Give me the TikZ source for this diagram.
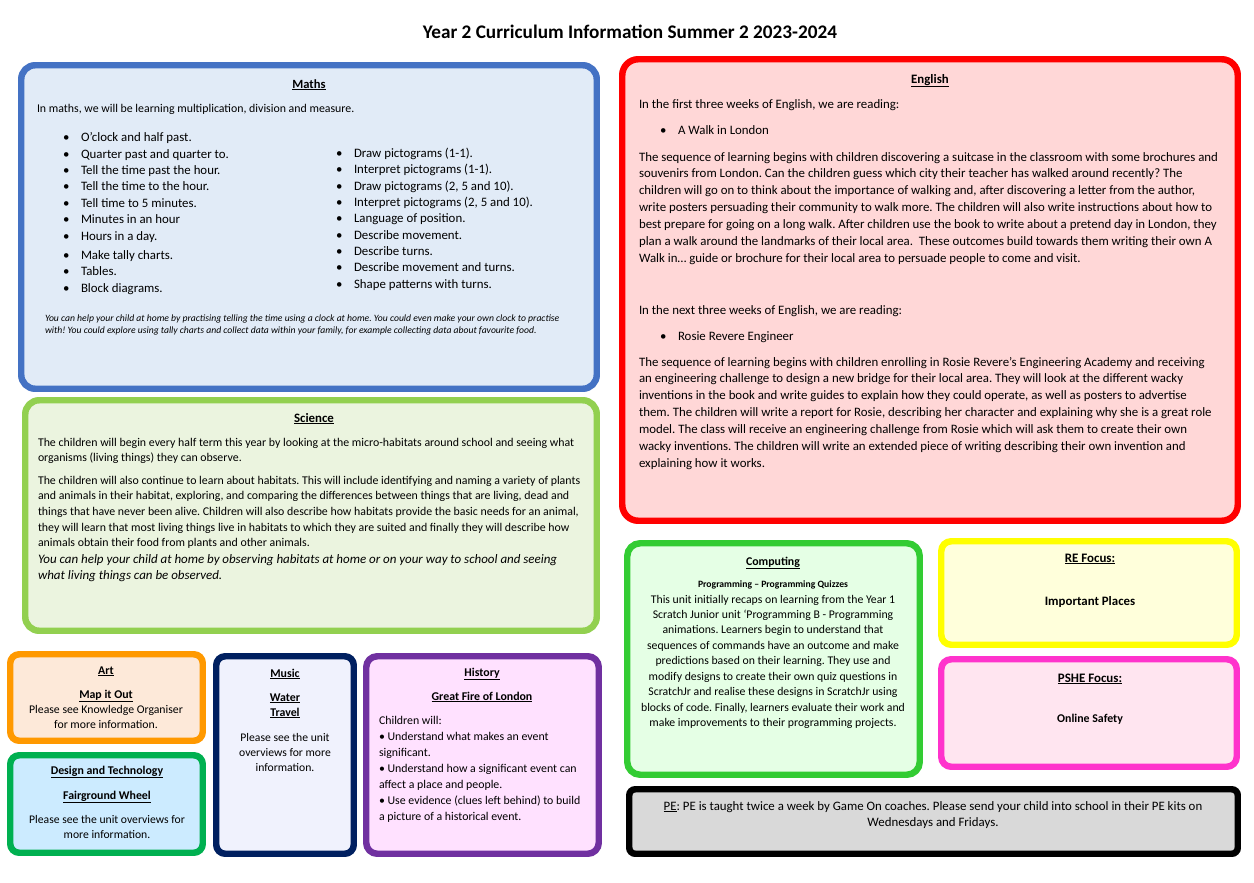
\documentclass[tikz,border=0pt]{standalone}
\usepackage{fontspec}
\setmainfont{Carlito}
\frenchspacing
\definecolor{mathsB}{HTML}{4472C4}\definecolor{mathsF}{HTML}{E1EBF7}
\definecolor{sciB}{HTML}{92D050}\definecolor{sciF}{HTML}{EBF4DF}
\definecolor{engB}{HTML}{FF0000}\definecolor{engF}{HTML}{FFD7D7}
\definecolor{compB}{HTML}{33CC33}\definecolor{compF}{HTML}{E5FFE5}
\definecolor{reB}{HTML}{FFFF00}\definecolor{reF}{HTML}{FFFFDB}
\definecolor{psheB}{HTML}{FF33CC}\definecolor{psheF}{HTML}{FFE5F0}
\definecolor{peB}{HTML}{000000}\definecolor{peF}{HTML}{D9D9D9}
\definecolor{artB}{HTML}{FF9900}\definecolor{artF}{HTML}{FDE9D9}
\definecolor{dtB}{HTML}{00B050}\definecolor{dtF}{HTML}{CCEBFF}
\definecolor{musB}{HTML}{002060}\definecolor{musF}{HTML}{F0F2FD}
\definecolor{hisB}{HTML}{7030A0}\definecolor{hisF}{HTML}{FFE1FF}
\newcommand\fsz[2]{\fontsize{#1}{#2}\selectfont\frenchspacing}
\newcommand\hd[1]{\underline{\textbf{#1}}}
\newcommand\panel[7]{\draw[panelst,draw=#5,fill=#6,rounded corners=#7] ({#1+3.25},{#2+3.25}) rectangle ({#3-3.25},{#4-3.25});}
\tikzset{
  panelst/.style={line width=6.5pt},
  txt/.style={inner sep=0pt, outer sep=0pt, anchor=base west},
  ctxt/.style={inner sep=0pt, outer sep=0pt, anchor=base},
}
\newcommand\bul[5]{\node[txt,font=#5] (#1b) at (#2,#3) {•};\node[txt,font=#5] (#1) at ({#2+18},#3) {#4};}
\begin{document}
\begin{tikzpicture}[x=1bp,y=-1bp]
\useasboundingbox[fill=white] (0,0) rectangle (1254,883);
% title
\node[ctxt,font=\fsz{19.3}{22}\bfseries] (title) at (630,38) {Year 2 Curriculum Information Summer 2 2023-2024};
% panels
\panel{18}{62}{600}{392}{mathsB}{mathsF}{14}
\panel{22}{397}{600}{634}{sciB}{sciF}{14}
\panel{7}{651}{206}{744}{artB}{artF}{9}
\panel{7}{752}{206}{856}{dtB}{dtF}{9}
\panel{213}{653}{357}{857}{musB}{musF}{9}
\panel{363}{653}{602}{857}{hisB}{hisF}{11}
\panel{619}{56}{1241}{524}{engB}{engF}{16}
\panel{624}{540}{923}{778}{compB}{compF}{13}
\panel{938}{538}{1240}{648}{reB}{reF}{10}
\panel{938}{656}{1240}{770}{psheB}{psheF}{10}
\panel{626}{786}{1241}{857}{peB}{peF}{6}
% ---------------- Maths
\node[ctxt,font=\fsz{12.6}{14}] (mathsH) at (309,88) {\hd{Maths}};
\node[txt,font=\fsz{11.9}{14}] (mathsI) at (37,112) {In maths, we will be learning multiplication, division and measure.};
\bul{ma}{63}{141}{O’clock and half past.}{\fsz{12.9}{14}}
\bul{mb}{63}{158}{Quarter past and quarter to.}{\fsz{12.9}{14}}
\bul{mc}{63}{174}{Tell the time past the hour.}{\fsz{12.9}{14}}
\bul{md}{63}{190}{Tell the time to the hour.}{\fsz{12.9}{14}}
\bul{me}{63}{207}{Tell time to 5 minutes.}{\fsz{12.9}{14}}
\bul{mf}{63}{223}{Minutes in an hour}{\fsz{12.9}{14}}
\bul{mg}{63}{240}{Hours in a day.}{\fsz{12.9}{14}}
\bul{mh}{63}{259}{Make tally charts.}{\fsz{12.9}{14}}
\bul{mi}{63}{275}{Tables.}{\fsz{12.9}{14}}
\bul{mj}{63}{292}{Block diagrams.}{\fsz{12.9}{14}}
\bul{na}{336}{157}{Draw pictograms (1-1).}{\fsz{12.9}{14}}
\bul{nb}{336}{173}{Interpret pictograms (1-1).}{\fsz{12.9}{14}}
\bul{nc}{336}{190}{Draw pictograms (2, 5 and 10).}{\fsz{12.9}{14}}
\bul{nd}{336}{206}{Interpret pictograms (2, 5 and 10).}{\fsz{12.9}{14}}
\bul{ne}{336}{222}{Language of position.}{\fsz{12.9}{14}}
\bul{nf}{336}{239}{Describe movement.}{\fsz{12.9}{14}}
\bul{ng}{336}{255}{Describe turns.}{\fsz{12.9}{14}}
\bul{nh}{336}{271}{Describe movement and turns.}{\fsz{12.9}{14}}
\bul{ni}{336}{288}{Shape patterns with turns.}{\fsz{12.9}{14}}
\node[txt,font=\fsz{9.7}{13}\itshape] (mathsN) at (45,321) {\parbox[t]{550bp}{You can help your child at home by practising telling the time using a clock at home. You could even make your own clock to practise\\with! You could explore using tally charts and collect data within your family, for example collecting data about favourite food.}};
% ---------------- Science
\node[ctxt,font=\fsz{12.9}{14}] (sciH) at (314,422) {\hd{Science}};
\node[txt,font=\fsz{11.9}{16}] (sciA) at (38,446) {\parbox[t]{560bp}{The children will begin every half term this year by looking at the micro-habitats around school and seeing what\\organisms (living things) they can observe.}};
\node[txt,font=\fsz{11.9}{15.8}] (sciB) at (38,484) {\parbox[t]{560bp}{The children will also continue to learn about habitats. This will include identifying and naming a variety of plants\\and animals in their habitat, exploring, and comparing the differences between things that are living, dead and\\things that have never been alive. Children will also describe how habitats provide the basic needs for an animal,\\they will learn that most living things live in habitats to which they are suited and finally they will describe how\\animals obtain their food from plants and other animals.}};
\node[txt,font=\fsz{13}{17}\itshape] (sciC) at (38,563) {\parbox[t]{560bp}{You can help your child at home by observing habitats at home or on your way to school and seeing\\what living things can be observed.}};
% ---------------- Art
\node[ctxt,font=\fsz{11.9}{15.5}] (artH) at (106,674) {\hd{Art}};
\node[ctxt,font=\fsz{11.9}{15.5}] (artS) at (106,698) {\hd{Map it Out}};
\node[ctxt,font=\fsz{11.8}{15.5}] (artT) at (106,713) {\parbox[t]{190bp}{\centering Please see Knowledge Organiser\\for more information.}};
% ---------------- DT
\node[ctxt,font=\fsz{11.9}{15.5}] (dtH) at (107,774) {\hd{Design and Technology}};
\node[ctxt,font=\fsz{11.9}{15.5}] (dtS) at (107,799) {\hd{Fairground Wheel}};
\node[ctxt,font=\fsz{11.7}{15.5}] (dtT) at (107,823) {\parbox[t]{190bp}{\centering Please see the unit overviews for\\more information.}};
% ---------------- Music
\node[ctxt,font=\fsz{11.9}{15.5}] (musH) at (285,677) {\hd{Music}};
\node[ctxt,font=\fsz{11.9}{15.5}] (musS) at (285,701) {\hd{Water}};
\node[ctxt,font=\fsz{11.9}{15.5}] (musS2) at (285,716) {\hd{Travel}};
\node[ctxt,font=\fsz{11.7}{15.5}] (musT) at (285,741) {\parbox[t]{135bp}{\centering Please see the unit\\overviews for more\\information.}};
% ---------------- History
\node[ctxt,font=\fsz{11.9}{15.5}] (hisH) at (482,676) {\hd{History}};
\node[ctxt,font=\fsz{11.9}{15.5}] (hisS) at (482,700) {\hd{Great Fire of London}};
\node[txt,font=\fsz{11.9}{16}] (hisT) at (379,724) {\parbox[t]{220bp}{Children will:\\[1bp]• Understand what makes an event\\significant.\\• Understand how a significant event can\\affect a place and people.\\• Use evidence (clues left behind) to build\\a picture of a historical event.}};
% ---------------- English
\node[ctxt,font=\fsz{12.9}{14}] (engH) at (930,83) {\hd{English}};
\node[txt,font=\fsz{12.9}{17}] (engA) at (639,108) {In the first three weeks of English, we are reading:};
\bul{ea}{660}{134}{A Walk in London}{\fsz{12.9}{17}}
\node[txt,font=\fsz{12.9}{17}] (engP) at (639,161) {\parbox[t]{595bp}{The sequence of learning begins with children discovering a suitcase in the classroom with some brochures and\\souvenirs from London. Can the children guess which city their teacher has walked around recently? The\\children will go on to think about the importance of walking and, after discovering a letter from the author,\\write posters persuading their community to walk more. The children will also write instructions about how to\\best prepare for going on a long walk. After children use the book to write about a pretend day in London, they\\plan a walk around the landmarks of their local area.\ \ These outcomes build towards them writing their own A\\Walk in… guide or brochure for their local area to persuade people to come and visit.}};
\node[txt,font=\fsz{12.9}{17}] (engB) at (639,314) {In the next three weeks of English, we are reading:};
\bul{eb}{660}{340}{Rosie Revere Engineer}{\fsz{12.9}{17}}
\node[txt,font=\fsz{12.9}{17}] (engQ) at (639,366) {\parbox[t]{595bp}{The sequence of learning begins with children enrolling in Rosie Revere’s Engineering Academy and receiving\\an engineering challenge to design a new bridge for their local area. They will look at the different wacky\\inventions in the book and write guides to explain how they could operate, as well as posters to advertise\\them. The children will write a report for Rosie, describing her character and explaining why she is a great role\\model. The class will receive an engineering challenge from Rosie which will ask them to create their own\\wacky inventions. The children will write an extended piece of writing describing their own invention and\\explaining how it works.}};
% ---------------- Computing
\node[ctxt,font=\fsz{11.9}{14}] (compH) at (773,565) {\hd{Computing}};
\node[ctxt,font=\fsz{9.7}{12}\bfseries] (compS) at (773,587) {Programming – Programming Quizzes};
\node[ctxt,font=\fsz{11.8}{15.5}] (compT) at (773,603) {\parbox[t]{290bp}{\centering This unit initially recaps on learning from the Year 1\\Scratch Junior unit ‘Programming B - Programming\\animations. Learners begin to understand that\\sequences of commands have an outcome and make\\predictions based on their learning. They use and\\modify designs to create their own quiz questions in\\ScratchJr and realise these designs in ScratchJr using\\blocks of code. Finally, learners evaluate their work and\\make improvements to their programming projects.}};
% ---------------- RE
\node[ctxt,font=\fsz{13}{14}] (reH) at (1090,562) {\hd{RE Focus:}};
\node[ctxt,font=\fsz{12.9}{14}\bfseries] (reT) at (1090,605) {Important Places};
% ---------------- PSHE
\node[ctxt,font=\fsz{13}{14}] (psheH) at (1090,682) {\hd{PSHE Focus:}};
\node[ctxt,font=\fsz{11.9}{14}\bfseries] (psheT) at (1090,722) {Online Safety};
% ---------------- PE
\node[ctxt,font=\fsz{12.9}{17}] (peT) at (933,810) {\parbox[t]{610bp}{\centering \underline{PE}: PE is taught twice a week by Game On coaches. Please send your child into school in their PE kits on\\Wednesdays and Fridays.}};
\end{tikzpicture}
\end{document}
